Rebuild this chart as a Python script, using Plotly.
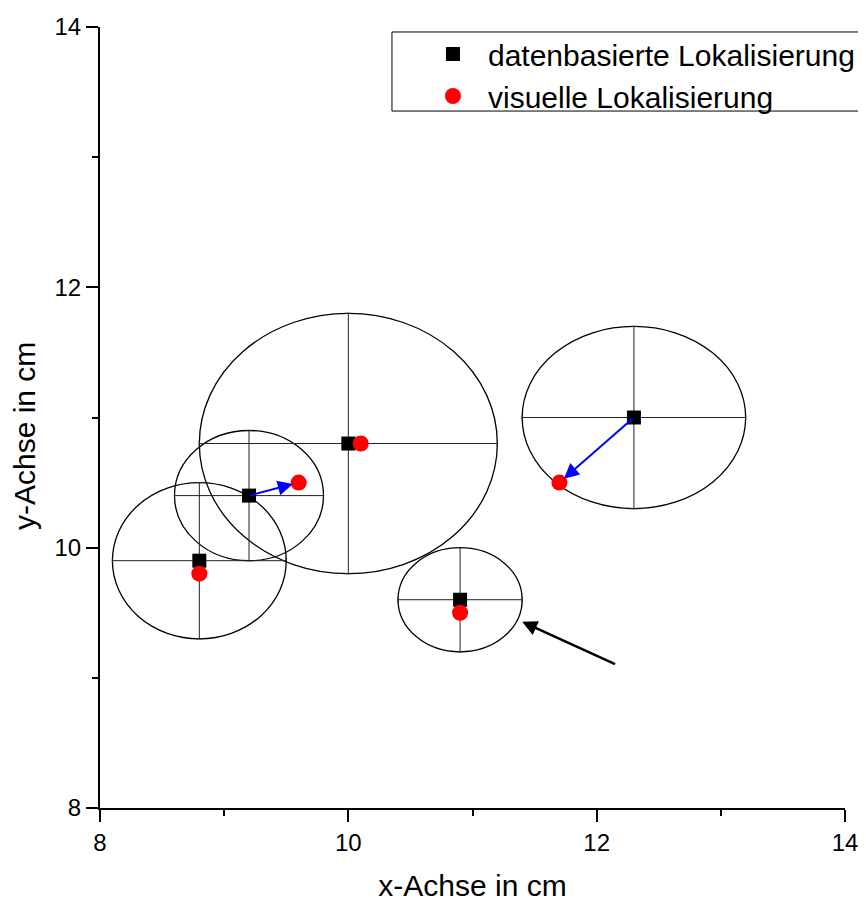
import plotly.graph_objects as go

# Data
data_x = [8.8, 9.2, 10.0, 10.9, 12.3]
data_y = [9.9, 10.4, 10.8, 9.6, 11.0]
err_x = [0.7, 0.6, 1.2, 0.5, 0.9]
err_y = [0.6, 0.5, 1.0, 0.4, 0.7]
vis_x = [8.8, 9.6, 10.1, 10.9, 11.7]
vis_y = [9.8, 10.5, 10.8, 9.5, 10.5]
blue_arrow_idx = [1, 4]
black_arrow_tail = (12.16, 9.1)
black_arrow_head = (11.4, 9.43)

FONT = "Liberation Sans, Arial, sans-serif"

fig = go.Figure()

# ellipses
for cx, cy, rx, ry in zip(data_x, data_y, err_x, err_y):
    fig.add_shape(type="circle", xref="x", yref="y",
                  x0=cx - rx, x1=cx + rx, y0=cy - ry, y1=cy + ry,
                  line=dict(color="black", width=1.3), layer="below")

# legend frame
fig.add_shape(type="rect", xref="paper", yref="paper",
              x0=0.3919, x1=1.0215, y0=0.8924, y1=0.9936,
              line=dict(color="black", width=1), fillcolor="white", layer="below")

fig.add_trace(go.Scatter(
    x=data_x, y=data_y, mode="markers", name="datenbasierte Lokalisierung",
    marker=dict(symbol="square", size=14, color="black"),
    error_x=dict(type="data", array=err_x, color="#222", thickness=1, width=3),
    error_y=dict(type="data", array=err_y, color="#222", thickness=1, width=3),
))
fig.add_trace(go.Scatter(
    x=vis_x, y=vis_y, mode="markers", name="visuelle Lokalisierung",
    marker=dict(symbol="circle", size=16, color="red"),
))

for i in blue_arrow_idx:
    fig.add_annotation(x=vis_x[i], y=vis_y[i], ax=data_x[i], ay=data_y[i],
                       xref="x", yref="y", axref="x", ayref="y",
                       showarrow=True, arrowhead=2, arrowsize=1.5, arrowwidth=2,
                       arrowcolor="blue", standoff=6, text="")

fig.add_annotation(x=black_arrow_head[0], y=black_arrow_head[1],
                   ax=black_arrow_tail[0], ay=black_arrow_tail[1],
                   xref="x", yref="y", axref="x", ayref="y",
                   showarrow=True, arrowhead=2, arrowsize=1.2, arrowwidth=2.5,
                   arrowcolor="black", text="")

# y-axis title (placed as rotated text, slightly below the axis centre as in the original)
fig.add_annotation(text="y-Achse in cm", xref="paper", yref="paper",
                   x=-0.102, y=0.4763, xanchor="center", yanchor="middle",
                   textangle=-90, showarrow=False,
                   font=dict(family=FONT, size=30, color="black"))

axis_common = dict(
    showline=True, linecolor="black", linewidth=2, mirror=False,
    showgrid=False, zeroline=False, ticks="outside", ticklen=12, tickwidth=2,
    tickcolor="black", tickfont=dict(family=FONT, size=24, color="black"),
    minor=dict(ticks="outside", ticklen=6, tickwidth=2, tickcolor="black", dtick=1),
    automargin=False,
)
fig.update_xaxes(range=[8, 14], dtick=2, tick0=8,
                 title=dict(text="x-Achse in cm", font=dict(family=FONT, size=30, color="black"), standoff=20),
                 **axis_common)
fig.update_yaxes(range=[8, 14], dtick=2, tick0=8, **axis_common)

fig.update_layout(
    width=866, height=900,
    margin=dict(l=92, r=29, t=19, b=100, autoexpand=False),
    plot_bgcolor="white", paper_bgcolor="white",
    font=dict(family=FONT, color="black"),
    legend=dict(x=0.4268, y=0.9987, xanchor="left", yanchor="top",
                borderwidth=0, bgcolor="rgba(0,0,0,0)",
                font=dict(family=FONT, size=30, color="black"),
                itemwidth=60, tracegroupgap=0),
)

fig.write_html("out.html")
